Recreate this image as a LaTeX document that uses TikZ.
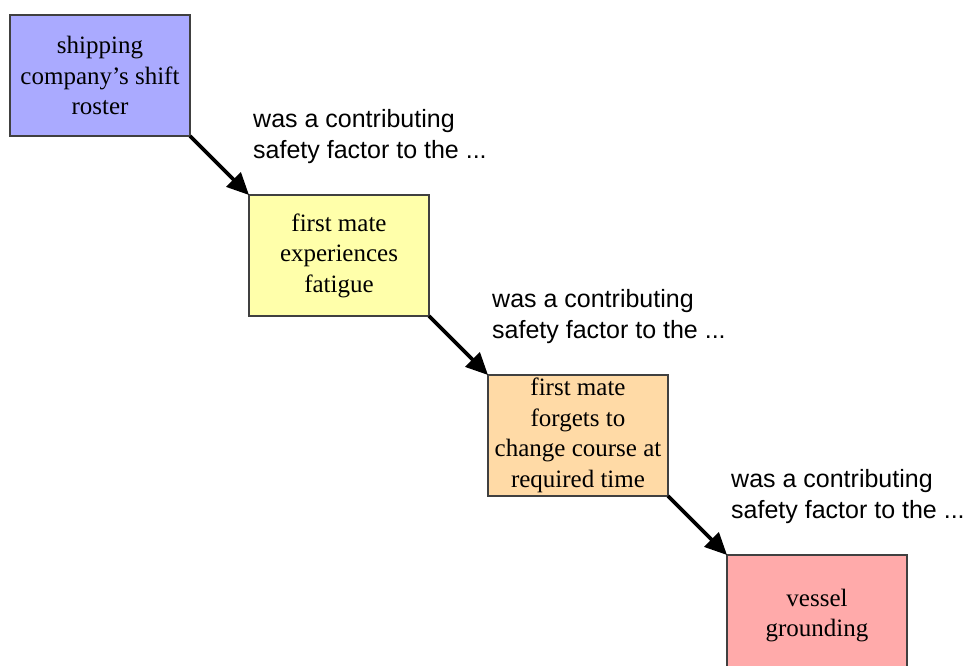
\documentclass[tikz,border=0pt]{standalone}
\usepackage{fontspec}
\setmainfont{Liberation Serif}
\setsansfont{Liberation Sans}
\usetikzlibrary{positioning,arrows.meta}
\definecolor{rosterblue}{HTML}{AAAAFF}
\definecolor{fatigueyellow}{HTML}{FFFFAA}
\definecolor{forgetorange}{HTML}{FFDAA6}
\definecolor{groundingred}{HTML}{FFAAAA}
\begin{document}
\begin{tikzpicture}[x=1pt,y=-1pt,
  factor/.style={draw=black!75, line width=1.3pt, minimum width=180pt,
    minimum height=121pt, inner sep=2pt, outer sep=0pt, align=center,
    anchor=north west, font=\fontsize{25}{30.5}\selectfont},
  leadsto/.style={-{Triangle[length=22pt,width=20pt]}, line width=3.6pt},
  because/.style={anchor=north west, align=left, inner sep=0pt,
    font=\sffamily\fontsize{25}{31.5}\selectfont}
]
\useasboundingbox (0,0) rectangle (969,666);
\node[factor, fill=rosterblue] (roster) at (10,15)
  {shipping\\company's shift\\roster};
\node[factor, fill=fatigueyellow, below right=59pt and 59pt of roster.south east] (fatigue)
  {first mate\\experiences\\fatigue};
\node[factor, fill=forgetorange, below right=59pt and 59pt of fatigue.south east] (forget)
  {first mate\\forgets to\\change course at\\required time};
\node[factor, fill=groundingred, below right=59pt and 59pt of forget.south east] (grounding)
  {vessel\\grounding};
% arrows between the factors
\draw[leadsto] (roster.south east) -- (fatigue.north west);
\draw[leadsto] (fatigue.south east) -- (forget.north west);
\draw[leadsto] (forget.south east) -- (grounding.north west);
\node[because] (because1) at ([shift={(4,-86)}]fatigue.north west)
  {was a contributing\\safety factor to the ...};
\node[because] (because2) at ([shift={(4,-86)}]forget.north west)
  {was a contributing\\safety factor to the ...};
\node[because] (because3) at ([shift={(4,-86)}]grounding.north west)
  {was a contributing\\safety factor to the ...};
\end{tikzpicture}
\end{document}
